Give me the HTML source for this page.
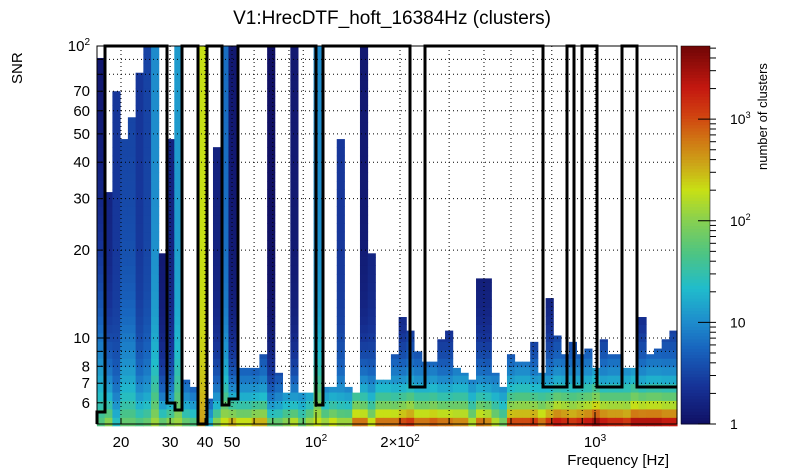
<!DOCTYPE html>
<html><head><meta charset="utf-8"><style>
html,body{margin:0;padding:0;background:#fff;}
svg{display:block;font-family:"Liberation Sans",Arial,sans-serif;}
</style></head><body>
<svg id="chart" width="805" height="472" viewBox="0 0 805 472">
<text x="392" y="24" font-size="19" text-anchor="middle" fill="#000">V1:HrecDTF_hoft_16384Hz (clusters)</text>
<text transform="translate(22,84) rotate(-90)" font-size="15" fill="#000">SNR</text>
<text x="669" y="465" font-size="15" text-anchor="end" fill="#000">Frequency [Hz]</text>
<text transform="translate(767,170) rotate(-90)" font-size="13" fill="#000">number of clusters</text>
<g id="cells"></g>
<g id="grid"></g>
<g id="contour"></g>
<g id="axes"></g>
<g id="cbar"></g>
</svg>
<script>
// ---- data ----
const nBins = 75;
const nRows = 45;
const freqMin = 16.4, freqMax = 1970;
const snrMin = 5, snrMax = 100;
const maxSnr = [91,31.6,70,48,57,81,100,100,19.5,48,100,7.2,6.8,100,6.2,45,100,100,7.9,7.9,7.9,8.8,100,7.6,6.5,
  100,6.5,6.5,100,6.8,6.8,48,6.8,6.5,100,19.5,7.2,7.2,8.8,11.8,10.6,9,8.3,8.3,9.9,10.6,7.9,7.6,7.2,16,
  16,7.6,6.8,8.8,8.3,8.3,9.7,7.6,13.7,10.2,8.8,9.7,8.8,9.2,7.9,9.9,8.8,8.8,7.9,7.9,11.8,8.8,9.2,9.9,10.6];
const bottomLog = [1.7,2.0,1.4,1.8,1.8,1.7,1.8,2.1,1.8,2.0,2.1,1.8,1.7,2.6,1.3,2.0,2.3,2.5,2.3,2.3,2.5,2.5,1.8,1.8,2.0,
  2.2,1.8,2.1,2.3,2.1,2.3,2.1,2.1,2.8,2.8,2.3,2.8,2.8,2.8,3.0,3.1,2.8,2.8,2.9,2.8,2.8,2.7,2.7,2.2,2.8,
  2.7,2.2,1.9,3.0,3.0,3.0,3.1,2.8,3.1,3.3,3.2,3.1,3.2,3.3,3.5,3.3,3.2,3.2,3.1,3.4,3.4,3.4,3.4,3.3,3.3];
const topLog = [0,0.2,0.4,0.5,0.5,0.4,0.5,1.0,0.1,0.2,1.1,0.3,0.2,2.3,0.1,0.2,0.8,0.1,0.3,0.3,0.2,0.3,0,0.2,0.3,
  0.1,0.4,0.4,1.0,0.3,0.3,0.4,0.3,0.3,0.1,0.2,0.3,0.3,0.2,0.1,0.2,0.2,0.2,0.2,0.1,0.1,0.3,0.3,0.3,0.1,
  0.1,0.3,0.4,0.2,0.3,0.3,0.1,0.3,0.1,0.2,0.2,0.2,0.2,0.2,0.3,0.1,0.2,0.2,0.3,0.3,0.1,0.2,0.2,0.2,0.2];
const spreadRows = [14,6,5,8,8,5,5,6,4,4,6,4,4,6,4,4,5,4,4,4,4,4,4,4,4,
  4,4,4,6,4,4,4,4,4.5,4.5,4.5,4.5,4.5,4.5,4.5,4.5,4.5,4.5,4.5,4.5,4.5,4.5,4.5,4.5,4.5,
  4.5,4.5,4.5,4.5,4.5,4.5,4.5,4.5,4.5,4.5,4.5,4.5,4.5,4.5,4.5,4.5,4.5,4.5,4.5,4.5,4.5,4.5,4.5,4.5,4.5];
const xTickLabels = [[20,"20"],[30,"30"],[40,"40"],[50,"50"],[100,"10<tspan dy='-6' font-size='10'>2</tspan>"],[200,"2×10<tspan dy='-6' font-size='10'>2</tspan>"],[1000,"10<tspan dy='-6' font-size='10'>3</tspan>"]];
const yTickLabels = [[6,"6"],[7,"7"],[8,"8"],[10,"10"],[20,"20"],[30,"30"],[40,"40"],[50,"50"],[60,"60"],[70,"70"],[100,"10<tspan dy='-6' font-size='10'>2</tspan>"]];
const zMaxLog = 3.72;

// ---- geometry ----
const X0=97, X1=677, Y0=46, Y1=424;
const xPix = f => 316 + (Math.log10(f)-2)*279;
const yPix = s => 338 - (Math.log10(s)-1)*292;
const NS="http://www.w3.org/2000/svg";
function mk(tag, attrs, parent){const e=document.createElementNS(NS,tag);for(const k in attrs)e.setAttribute(k,attrs[k]);parent.appendChild(e);return e;}

const stops=[[0,[16,16,100]],[0.1,[22,50,150]],[0.2,[24,100,190]],[0.27,[30,140,204]],[0.36,[32,188,204]],[0.45,[76,196,132]],[0.54,[136,208,80]],[0.62,[200,224,20]],[0.68,[204,172,24]],[0.75,[208,120,20]],[0.82,[208,64,16]],[0.89,[196,24,16]],[1,[112,6,6]]];
function color(l){let t=Math.max(0,Math.min(1,l/zMaxLog));for(let i=1;i<stops.length;i++){if(t<=stops[i][0]){const a=stops[i-1],b=stops[i];const u=(t-a[0])/(b[0]-a[0]);const c=a[1].map((v,j)=>Math.round(v+(b[1][j]-v)*u));return `rgb(${c})`;}}return 'rgb(112,6,6)';}

// ---- cells ----
const cells=document.getElementById('cells');
const lfMin=Math.log10(freqMin), lfMax=Math.log10(freqMax);
const lsMin=Math.log10(snrMin), lsMax=Math.log10(snrMax);
for(let i=0;i<nBins;i++){
  const fa=Math.pow(10,lfMin+(lfMax-lfMin)*i/nBins), fb=Math.pow(10,lfMin+(lfMax-lfMin)*(i+1)/nBins);
  const xa=xPix(fa), xb=xPix(fb);
  for(let r=0;r<nRows;r++){
    const sa=Math.pow(10,lsMin+(lsMax-lsMin)*r/nRows), sb=Math.pow(10,lsMin+(lsMax-lsMin)*(r+1)/nRows);
    if(sa>=maxSnr[i]) break;
    const top=Math.min(sb,maxSnr[i]);
    const l=topLog[i]+(bottomLog[i]-topLog[i])*Math.exp(-r/spreadRows[i]);
    const c=mk('rect',{x:xa.toFixed(2),y:yPix(top).toFixed(2),width:(xb-xa+0.4).toFixed(2),height:(yPix(sa)-yPix(top)+0.4).toFixed(2),fill:color(l)},cells);
    
    
  }
}

// ---- grid ----
const grid=document.getElementById('grid');
for(const d of [10,100,1000]) for(let m=1;m<10;m++){const f=d*m;const x=xPix(f);if(x<=X0+1||x>=X1-1)continue;
  const g=mk('line',{x1:x,x2:x,y1:Y0,y2:Y1,stroke:'#000','stroke-width':1,'stroke-dasharray':'1,3'},grid);
  
  }
for(const s of [6,7,8,9,10,20,30,40,50,60,70,80,90]){const y=yPix(s);
  const g=mk('line',{x1:X0,x2:X1,y1:y,y2:y,stroke:'#000','stroke-width':1,'stroke-dasharray':'1,3'},grid);
  
  }

// ---- contour ----
const contour=document.getElementById('contour');
const pts=[[97,424],[97,412],[105,412],[105,46],[167,46],[167,403],[175,403],[175,410],[182,410],[182,46],[198,46],[198,424],[207,424],[207,46],[222,46],[222,405],[229,405],[229,399],[238,399],[238,46],[316,46],[316,405],[323,405],[323,46],[410,46],[410,387],[425,387],[425,46],[543,46],[543,387],[567,387],[567,46],[574,46],[574,387],[582,387],[582,46],[597,46],[597,387],[622,387],[622,46],[637,46],[637,387],[677,387]];
const pl=mk('polyline',{points:pts.map(p=>p.join(',')).join(' '),fill:'none',stroke:'#000','stroke-width':3},contour);



// ---- axes ----
const axes=document.getElementById('axes');
mk('rect',{x:X0,y:Y0,width:X1-X0,height:Y1-Y0,fill:'none',stroke:'#000','stroke-width':1},axes);
for(const d of [10,100,1000]) for(let m=1;m<10;m++){const f=d*m;const x=xPix(f);if(x<X0||x>X1)continue;
  const big=(m===1);mk('line',{x1:x,x2:x,y1:Y1,y2:Y1-(big?12:6),stroke:'#000'},axes);}
for(const s of [6,7,8,9,10,20,30,40,50,60,70,80,90,100]){const y=yPix(s);mk('line',{x1:X0,x2:X0+((s===10||s===100)?12:6),y1:y,y2:y,stroke:'#000'},axes);}
for(const [f,lab] of xTickLabels){const t=mk('text',{x:xPix(f),y:447,'font-size':15,'text-anchor':'middle'},axes);t.innerHTML=lab;
  
  }
for(const [s,lab] of yTickLabels){const t=mk('text',{x:90,y:yPix(s)+5,'font-size':15,'text-anchor':'end'},axes);t.innerHTML=lab;
  
  }

// ---- colorbar ----
const cbar=document.getElementById('cbar');
const CX=681, CW=29, CB=424, CT=46, N=120;
for(let i=0;i<N;i++){const l=zMaxLog*(i+0.5)/N;const y=CB-(CB-CT)*(i+1)/N;
  mk('rect',{x:CX,y:y.toFixed(2),width:CW,height:((CB-CT)/N+0.5).toFixed(2),fill:color(l)},cbar);}
mk('rect',{x:CX,y:CT,width:CW,height:CB-CT,fill:'none',stroke:'#000','stroke-width':0.5},cbar);
const zy=l=>CB-(CB-CT)*l/zMaxLog;
for(let d=0;d<4;d++)for(let m=1;m<10;m++){const l=d+Math.log10(m);if(l>zMaxLog)continue;const y=zy(l);
  mk('line',{x1:CX+CW+6,x2:CX+CW-(m===1?12:0),y1:y,y2:y,stroke:'#000'},cbar);}
for(const [l,lab] of [[0,"1"],[1,"10"],[2,"10<tspan dy='-6' font-size='9'>2</tspan>"],[3,"10<tspan dy='-6' font-size='9'>3</tspan>"]]){
  const t=mk('text',{x:CX+CW+20,y:zy(l)+5,'font-size':14},cbar);t.innerHTML=lab;
  
  }
</script>
</body></html>
